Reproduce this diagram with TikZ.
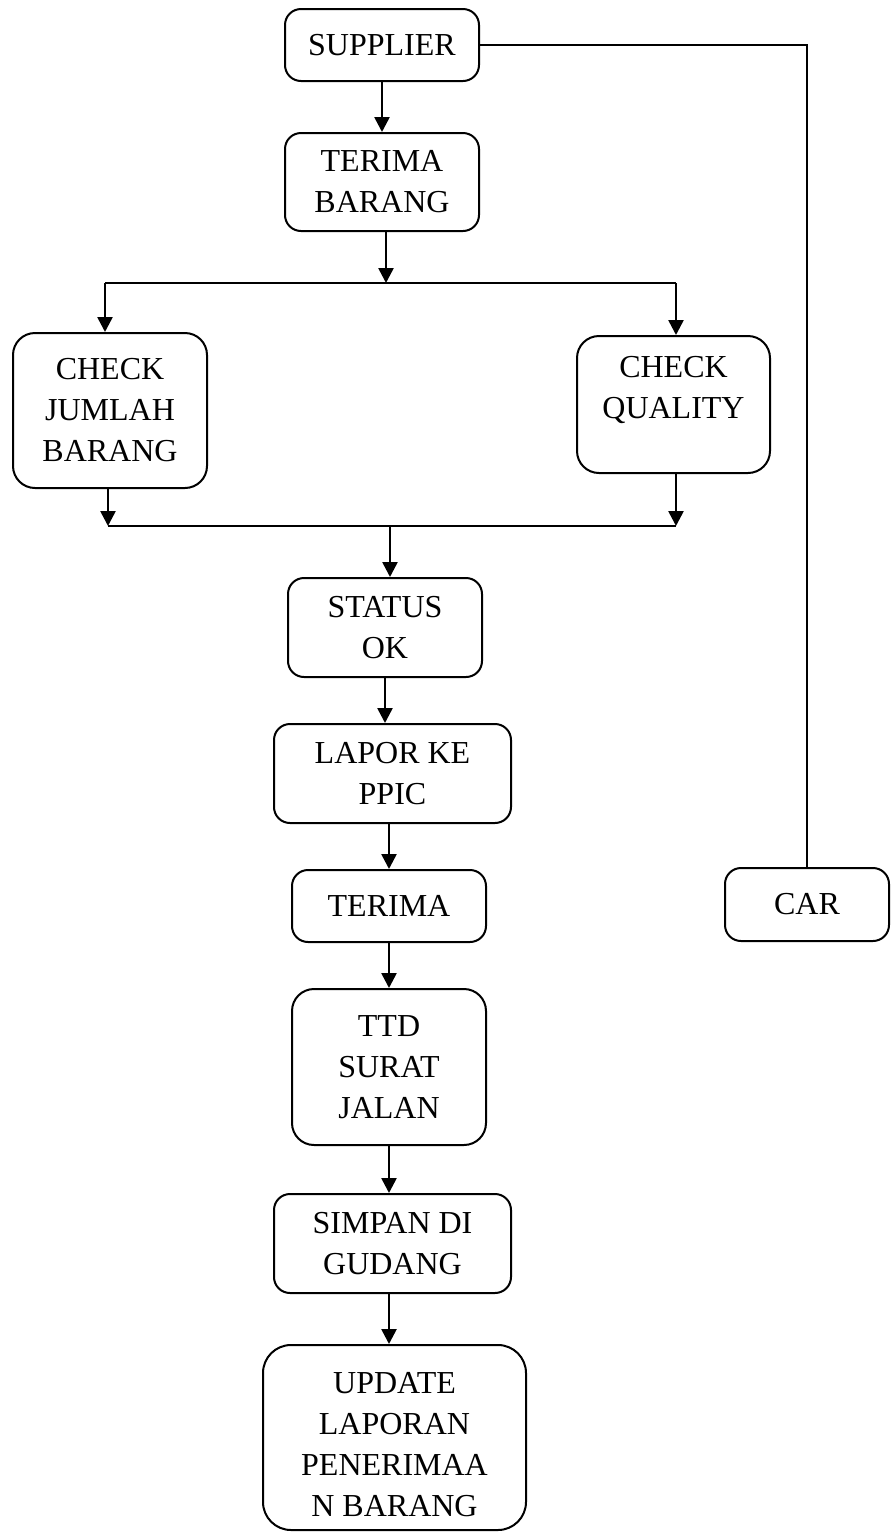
\documentclass[tikz,border=0pt]{standalone}
\usepackage{fontspec}
\setmainfont{Liberation Serif}
\usetikzlibrary{arrows.meta}

\begin{document}
\begin{tikzpicture}[x=1pt, y=-1pt,
    box/.style={draw, line width=2pt, rounded corners=16pt, align=center, inner sep=0pt,
        font=\fontsize{32}{41}\selectfont},
    arr/.style={-{Triangle[length=15pt,width=15pt]}, line width=2.6pt},
    link/.style={line width=2pt}]
    \useasboundingbox (0,0) rectangle (891,1532);
    % Boxes
    \node[box, minimum width=194pt, minimum height=72pt]  (supplier)  at (382,45)     {SUPPLIER};
    \node[box, minimum width=194pt, minimum height=98pt]  (terimabrg) at (382,182)    {TERIMA\\BARANG};
    \node[box, minimum width=194pt, minimum height=155pt, rounded corners=22pt] (jumlah)  at (110,410.5)  {CHECK\\JUMLAH\\BARANG};
    \node[box, minimum width=193pt, minimum height=137pt, rounded corners=22pt] (quality) at (673.5,404.5) {CHECK\\QUALITY\\[-6pt]\mbox{}};
    \node[box, minimum width=194pt, minimum height=99pt]  (status)    at (385,627.5)  {STATUS\\OK};
    \node[box, minimum width=237pt, minimum height=99pt]  (lapor)     at (392.5,773.5) {LAPOR KE\\PPIC};
    \node[box, minimum width=194pt, minimum height=72pt]  (terima)    at (389,906)    {TERIMA};
    \node[box, minimum width=194pt, minimum height=156pt, rounded corners=22pt] (ttd) at (389,1067) {TTD\\SURAT\\JALAN};
    \node[box, minimum width=237pt, minimum height=99pt]  (simpan)    at (392.5,1243.5) {SIMPAN DI\\GUDANG};
    \node[box, minimum width=263pt, minimum height=185pt, rounded corners=28pt] (update) at (394.5,1437.5) {\rule{0pt}{35pt}UPDATE\\LAPORAN\\PENERIMAA\\N BARANG};
    \node[box, minimum width=164pt, minimum height=73pt]  (car)       at (807,904.5)  {CAR};
    % Split and join points
    \coordinate (splitL) at (105,283);
    \coordinate (splitM) at (386,283);
    \coordinate (splitR) at (676,283);
    \coordinate (joinL)  at (108,526);
    \coordinate (joinM)  at (390,526);
    \coordinate (joinR)  at (676,526);
    % Main flow
    \draw[arr] (supplier) -- (terimabrg);
    \draw[arr] (terimabrg.south -| splitM) -- (splitM);
    \draw[link] (splitL) -- (splitR);
    \draw[arr] (splitL) -- (splitL |- jumlah.north);
    \draw[arr] (splitR) -- (splitR |- quality.north);
    \draw[arr] (joinL |- jumlah.south) -- (joinL);
    \draw[arr] (joinR |- quality.south) -- (joinR);
    \draw[link] (joinL) -- (joinR);
    \draw[arr] (joinM) -- (joinM |- status.north);
    \draw[arr] (status) -- (status |- lapor.north);
    \draw[arr] (lapor.south -| terima) -- (terima);
    \draw[arr] (terima) -- (ttd);
    \draw[arr] (ttd) -- (ttd |- simpan.north);
    \draw[arr] (simpan.south -| ttd) -- (ttd |- update.north);
    % Side line to CAR
    \draw[link] (supplier.east) -| (car.north);
\end{tikzpicture}
\end{document}
